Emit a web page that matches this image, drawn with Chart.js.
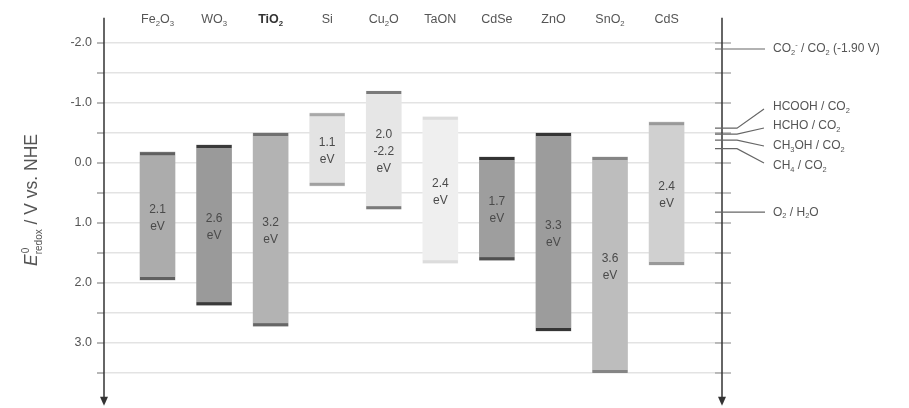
<!DOCTYPE html>
<html>
<head>
<meta charset="utf-8">
<script src="https://cdn.jsdelivr.net/npm/chart.js@4"></script>
<style>
html,body{margin:0;padding:0;background:#fff;}
#wrap{width:909px;height:408px;position:relative;}
</style>
</head>
<body>
<div id="wrap"><canvas id="c" width="909" height="408"></canvas></div>
<script>
// ---- data ----
const materials = ["Fe_2O_3", "WO_3", "TiO_2", "Si", "Cu_2O", "TaON", "CdSe", "ZnO", "SnO_2", "CdS"];
const conductionBand = [-0.18, -0.30, -0.50, -0.83, -1.20, -0.77, -0.10, -0.50, -0.10, -0.68];
const valenceBand = [1.95, 2.37, 2.72, 0.38, 0.77, 1.67, 1.62, 2.80, 3.50, 1.70];
const bandGapLabels = ["2.1", "2.6", "3.2", "1.1", "2.0\n-2.2", "2.4", "1.7", "3.3", "3.6", "2.4"];
const reactionNames = ["CO_2^- / CO_2 (-1.90 V)", "HCOOH / CO_2", "HCHO / CO_2", "CH_3OH / CO_2", "CH_4 / CO_2", "O_2 / H_2O"];
const reactionPotentials = [-1.90, -0.58, -0.48, -0.38, -0.24, 0.82];
const yTickLabels = ["-2.0", "-1.0", "0.0", "1.0", "2.0", "3.0"];
const yTickValues = [-2, -1, 0, 1, 2, 3];

// ---- styles ----
const fillColors = ["#acacac", "#9a9a9a", "#b3b3b3", "#e3e3e3", "#e6e6e6", "#efefef", "#9e9e9e", "#9c9c9c", "#bdbdbd", "#d0d0d0"];
const topEdgeColors = ["#606060", "#3a3a3a", "#707070", "#a8a8a8", "#7a7a7a", "#dcdcdc", "#333333", "#353535", "#858585", "#999999"];
const bottomEdgeColors = ["#606060", "#3a3a3a", "#666666", "#a0a0a0", "#7a7a7a", "#dcdcdc", "#505050", "#353535", "#858585", "#999999"];
const TXT = "#555555";
const FONT = "'Liberation Sans', Arial, sans-serif";

function parseRich(s) {
  const segs = [];
  for (let i = 0; i < s.length; i++) {
    const ch = s[i];
    if ((ch === '_' || ch === '^') && i + 1 < s.length) {
      segs.push({t: s[i + 1], m: ch === '_' ? 'sub' : 'sup'});
      i++;
    } else {
      if (segs.length && segs[segs.length - 1].m === 'n') segs[segs.length - 1].t += ch;
      else segs.push({t: ch, m: 'n'});
    }
  }
  return segs;
}
function drawRich(ctx, segs, x, y, align, size, color, weight) {
  const sm = size * 0.62;
  const fontFor = (s) => (weight || 'normal') + ' ' + (s.m === 'n' ? size : sm) + 'px ' + FONT;
  let w = 0;
  segs.forEach((s) => { ctx.font = fontFor(s); w += ctx.measureText(s.t).width; });
  let cx = align === 'center' ? x - w / 2 : (align === 'right' ? x - w : x);
  ctx.fillStyle = color;
  ctx.textAlign = 'left';
  ctx.textBaseline = 'middle';
  segs.forEach((s) => {
    ctx.font = fontFor(s);
    let dy = 0;
    if (s.m === 'sub') dy = size * 0.33;
    if (s.m === 'sup') dy = -size * 0.33;
    ctx.fillText(s.t, cx, y + dy);
    cx += ctx.measureText(s.t).width;
  });
}

const decor = {
  id: 'decor',
  afterDatasetsDraw(chart) {
    const ctx = chart.ctx;
    const meta = chart.getDatasetMeta(0);
    ctx.save();
    meta.data.forEach((el, i) => {
      const top = Math.min(el.y, el.base), bot = Math.max(el.y, el.base);
      const w = el.width;
      ctx.fillStyle = topEdgeColors[i];
      ctx.fillRect(el.x - w / 2, top, w, 3);
      ctx.fillStyle = bottomEdgeColors[i];
      ctx.fillRect(el.x - w / 2, bot - 3, w, 3);
      const lines = bandGapLabels[i].split('\n').concat(['eV']);
      const lh = 17;
      const mid = (top + bot) / 2;
      ctx.font = '12px ' + FONT;
      ctx.fillStyle = '#4a4a4a';
      ctx.textAlign = 'center';
      ctx.textBaseline = 'middle';
      lines.forEach((ln, k) => {
        ctx.fillText(ln, el.x, mid - (lines.length - 1) * lh / 2 + k * lh + 2);
      });
    });
    ctx.restore();
  },
  afterDraw(chart) {
    const ctx = chart.ctx;
    const ys = chart.scales.y, xs = chart.scales.x;
    const L = chart.chartArea.left, R = chart.chartArea.right;
    ctx.save();
    for (let v = -2; v <= 3.5001; v += 0.5) {
      const py = ys.getPixelForValue(v);
      ctx.strokeStyle = '#888'; ctx.lineWidth = 1.2;
      ctx.beginPath(); ctx.moveTo(L - 7, py); ctx.lineTo(L, py); ctx.stroke();
      ctx.strokeStyle = '#999';
      ctx.beginPath(); ctx.moveTo(R - 7, py); ctx.lineTo(R + 9, py); ctx.stroke();
    }
    ctx.font = '12.5px ' + FONT;
    ctx.fillStyle = TXT; ctx.textAlign = 'right'; ctx.textBaseline = 'middle';
    yTickValues.forEach((v, i) => ctx.fillText(yTickLabels[i], L - 12, ys.getPixelForValue(v)));
    const top = ys.getPixelForValue(-2.42), bottom = ys.getPixelForValue(4.03);
    [L, R].forEach(ax => {
      ctx.strokeStyle = '#333'; ctx.lineWidth = 1.5;
      ctx.beginPath(); ctx.moveTo(ax, top); ctx.lineTo(ax, bottom - 4); ctx.stroke();
      ctx.fillStyle = '#333';
      ctx.beginPath(); ctx.moveTo(ax - 4, bottom - 8); ctx.lineTo(ax + 4, bottom - 8); ctx.lineTo(ax, bottom + 1); ctx.closePath(); ctx.fill();
    });
    materials.forEach((m, i) => {
      const bold = m === 'TiO_2';
      drawRich(ctx, parseRich(m), xs.getPixelForValue(i), 20, 'center', 12.5, bold ? '#333' : TXT, bold ? 'bold' : 'normal');
    });
    const labelY = [null, 107, 126, 146, 166, null];
    ctx.strokeStyle = '#666'; ctx.lineWidth = 1.2;
    reactionPotentials.forEach((v, i) => {
      const py = ys.getPixelForValue(v);
      let ly = py;
      ctx.beginPath();
      ctx.moveTo(R - 7, py);
      if (labelY[i] === null) {
        ctx.lineTo(R + 43, py);
      } else {
        ly = labelY[i];
        ctx.lineTo(R + 15, py);
        ctx.lineTo(R + 42, ly + (ly < py ? 2 : (ly > py + 8 ? -3 : 0)));
      }
      ctx.stroke();
      drawRich(ctx, parseRich(reactionNames[i]), R + 51, ly, 'left', 12, TXT, 'normal');
    });
    ctx.translate(32, 200);
    ctx.rotate(-Math.PI / 2);
    const tsize = 17.5;
    ctx.font = 'italic ' + tsize + 'px ' + FONT;
    const wE = ctx.measureText('E').width;
    ctx.font = '10px ' + FONT;
    const wSup = ctx.measureText('0').width, wSub = ctx.measureText('redox').width;
    ctx.font = tsize + 'px ' + FONT;
    const rest = ' / V vs. NHE';
    const wR = ctx.measureText(rest).width;
    const total = wE + Math.max(wSup, wSub) + wR;
    let cx = -total / 2;
    ctx.fillStyle = TXT; ctx.textAlign = 'left'; ctx.textBaseline = 'middle';
    ctx.font = 'italic ' + tsize + 'px ' + FONT; ctx.fillText('E', cx, 0); cx += wE;
    ctx.font = '10px ' + FONT; ctx.fillText('0', cx + 1, -6); ctx.fillText('redox', cx, 7);
    cx += Math.max(wSup, wSub);
    ctx.font = tsize + 'px ' + FONT; ctx.fillText(rest, cx, 0);
    ctx.restore();
  }
};

const dataPoints = materials.map((m, i) => ({x: i, y: [conductionBand[i], valenceBand[i]]}));

new Chart(document.getElementById('c'), {
  type: 'bar',
  data: {
    datasets: [{
      data: dataPoints,
      backgroundColor: fillColors,
      borderWidth: 0,
      barThickness: 35
    }]
  },
  options: {
    responsive: false,
    animation: false,
    layout: {padding: {left: 104, right: 187, top: 43, bottom: 35}},
    plugins: {legend: {display: false}, tooltip: {enabled: false}},
    scales: {
      x: {
        type: 'linear', min: -0.946, max: 9.98,
        offset: false,
        display: false,
        grid: {display: false, offset: false}
      },
      y: {
        reverse: true, min: -2, max: 3.5,
        z: 1,
        border: {display: false},
        ticks: {display: false, stepSize: 0.5},
        grid: {color: 'rgba(0,0,0,0.11)', lineWidth: 1.5, drawTicks: false}
      }
    }
  },
  plugins: [decor]
});
</script>
</body>
</html>
